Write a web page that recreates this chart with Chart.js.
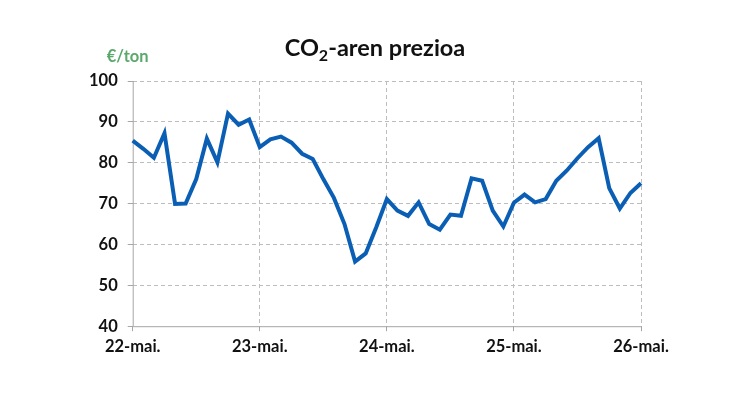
<!DOCTYPE html>
<html>
<head>
<meta charset="utf-8">
<script src="https://cdn.jsdelivr.net/npm/chart.js@4"></script>
<style>
  html, body { margin: 0; padding: 0; background: #fff; }
  #wrap { width: 750px; height: 400px; }
</style>
</head>
<body>
<div id="wrap"><canvas id="co2Chart"></canvas></div>
<script>
// monthly values, May 2022 .. May 2026
const months = [
  "22-mai.", "22-eka.", "22-uzt.", "22-abu.", "22-ira.", "22-urr.", "22-aza.", "22-abe.",
  "23-urt.", "23-ots.", "23-mar.", "23-api.",
  "23-mai.", "23-eka.", "23-uzt.", "23-abu.", "23-ira.", "23-urr.", "23-aza.", "23-abe.",
  "24-urt.", "24-ots.", "24-mar.", "24-api.",
  "24-mai.", "24-eka.", "24-uzt.", "24-abu.", "24-ira.", "24-urr.", "24-aza.", "24-abe.",
  "25-urt.", "25-ots.", "25-mar.", "25-api.",
  "25-mai.", "25-eka.", "25-uzt.", "25-abu.", "25-ira.", "25-urr.", "25-aza.", "25-abe.",
  "26-urt.", "26-ots.", "26-mar.", "26-api.",
  "26-mai."
];
const prices = [
  85.4, 83.4, 81.2, 87.2, 69.9, 70.0, 76.0, 85.9, 80.1, 92.0, 89.3, 90.6,
  83.8, 85.7, 86.4, 84.9, 82.2, 80.9, 76.0, 71.4, 65.0, 55.8, 57.8, 64.2,
  71.1, 68.3, 67.0, 70.3, 65.0, 63.6, 67.3, 67.0, 76.2, 75.6, 68.3, 64.4,
  70.2, 72.2, 70.3, 71.1, 75.6, 78.1, 81.1, 83.8, 86.0, 73.8, 68.8, 72.6,
  75.0
];
const yMin = 40;
const yMax = 100;
const yStep = 10;
const unitLabel = "€/ton";
// title pieces: "CO" + subscript "2" + "-aren prezioa"
const titleParts = ["CO", "2", "-aren prezioa"];

const FONT = "Lato, 'Open Sans', sans-serif";
const AXIS_COLOR = "#a6a6a6";

// solid axis lines (grid lines stay dashed)
const axisPlugin = {
  id: "solidAxes",
  beforeDatasetsDraw(chart) {
    const c = chart.ctx;
    const a = chart.chartArea;
    c.save();
    c.strokeStyle = AXIS_COLOR;
    c.lineWidth = 1;
    c.setLineDash([]);
    c.beginPath();
    c.moveTo(a.left + 0.5, a.top);
    c.lineTo(a.left + 0.5, a.bottom + 0.5);
    c.lineTo(a.right, a.bottom + 0.5);
    c.stroke();
    c.restore();
  }
};

const textPlugin = {
  id: "texts",
  afterDraw(chart) {
    const c = chart.ctx;
    const area = chart.chartArea;
    c.save();
    // unit
    c.font = "bold 16.5px " + FONT;
    c.fillStyle = "#5ba86b";
    c.textAlign = "left";
    c.textBaseline = "middle";
    c.fillText(unitLabel, area.left - 26, area.top - 24);

    // title with subscript
    const big = "bold 23.5px " + FONT;
    const small = "bold 16px " + FONT;
    c.font = big;
    const w1 = c.measureText(titleParts[0]).width;
    const w3 = c.measureText(titleParts[2]).width;
    c.font = small;
    const w2 = c.measureText(titleParts[1]).width;
    const total = w1 + w2 + w3;
    let x = chart.width / 2 - total / 2;
    const base = 56;
    c.fillStyle = "#111";
    c.textBaseline = "alphabetic";
    c.font = big;
    c.fillText(titleParts[0], x, base);
    x += w1;
    c.font = small;
    c.fillText(titleParts[1], x, base + 5);
    x += w2;
    c.font = big;
    c.fillText(titleParts[2], x, base);
    c.restore();
  }
};

const ctx = document.getElementById("co2Chart");
new Chart(ctx, {
  type: "line",
  data: {
    labels: months,
    datasets: [{
      label: "CO2",
      data: prices,
      borderColor: "#0a5fb4",
      borderWidth: 4,
      pointRadius: 0,
      tension: 0,
      fill: false
    }]
  },
  options: {
    responsive: true,
    maintainAspectRatio: false,
    animation: false,
    layout: { padding: { left: 79, right: 109, top: 81, bottom: 37 } },
    plugins: {
      legend: { display: false },
      tooltip: { enabled: false },
      title: { display: false }
    },
    scales: {
      x: {
        offset: false,
        border: { display: false, dash: [4, 3] },
        grid: {
          color: c => (c.index % 12 === 0 && c.index > 0) ? "#bdbdbd" : "rgba(0,0,0,0)",
          tickColor: c => (c.index % 12 === 0) ? AXIS_COLOR : "rgba(0,0,0,0)",
          tickLength: 5,
          drawOnChartArea: true
        },
        ticks: {
          autoSkip: false,
          maxRotation: 0,
          padding: 6,
          color: "#111",
          font: { family: FONT, size: 16.5, weight: "bold" },
          callback: (v, i) => (i % 12 === 0 ? months[i] : "")
        }
      },
      y: {
        min: yMin,
        max: yMax,
        border: { display: false, dash: [4, 3] },
        grid: {
          color: c => (c.index === 0 ? "rgba(0,0,0,0)" : "#bdbdbd"),
          tickColor: AXIS_COLOR,
          tickLength: 5
        },
        ticks: {
          stepSize: yStep,
          padding: 10,
          color: "#111",
          font: { family: FONT, size: 16.5, weight: "bold" }
        }
      }
    }
  },
  plugins: [axisPlugin, textPlugin]
});
</script>
</body>
</html>
